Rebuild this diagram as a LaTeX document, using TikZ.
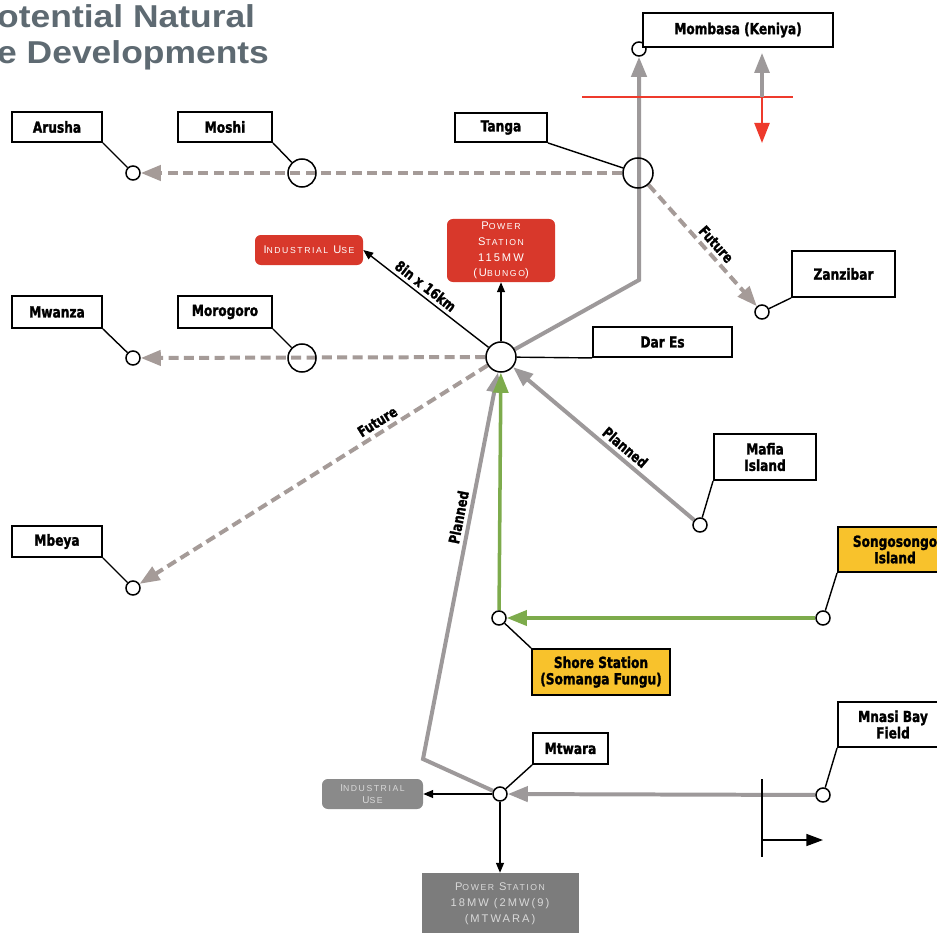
\documentclass[tikz,border=0pt]{standalone}
\usepackage{fontspec}
\usetikzlibrary{arrows.meta,backgrounds}
\newfontfamily\titlefont{Liberation Sans}[FakeStretch=1.12]
\newfontfamily\tagfont{DejaVu Sans Bold}[FakeStretch=0.8,FakeBold=1.6]
\newfontfamily\capfont{Liberation Sans}[LetterSpace=18]
\newcommand\lc[1]{{\fontsize{7.4}{10}\selectfont #1}}
\definecolor{titlegray}{HTML}{5E6A72}
\definecolor{pipegray}{HTML}{9D999A}
\definecolor{dashgray}{HTML}{A59B98}
\definecolor{gasgreen}{HTML}{7DAB4C}
\definecolor{fieldyellow}{HTML}{F8C22C}
\definecolor{plantred}{HTML}{D8382B}
\definecolor{worksgray}{HTML}{8A8A8A}
\definecolor{stationgray}{HTML}{7C7C7C}
\definecolor{cutred}{HTML}{EE3A2C}

\begin{document}
\begin{tikzpicture}[x=0.03cm,y=-0.03cm,
 town/.style={draw,line width=1.6pt,fill=white,inner sep=0pt,align=center,font=\tagfont\fontsize{13}{14}\selectfont},
 field/.style={town,fill=fieldyellow},
 plant/.style={rounded corners=5pt,fill=plantred,text=white,inner sep=0pt,align=center,font=\capfont\fontsize{9.5}{13.5}\selectfont},
 works/.style={plant,fill=worksgray,text=black!15},
 stop/.style={circle,draw,line width=1.3pt,fill=white,minimum size=0.42cm,inner sep=0pt},
 hubc/.style={circle,draw,line width=1.3pt,minimum size=0.86cm,inner sep=0pt},
 tie/.style={line width=1.2pt},
 feed/.style={-{Triangle[length=3mm,width=2.4mm]},line width=1.2pt},
 pipe/.style={-{Triangle[length=6mm,width=4.5mm]},line width=3.4pt,draw=pipegray},
 future/.style={pipe,draw=dashgray,dash pattern=on 0.3cm off 0.16cm},
 gas/.style={pipe,draw=gasgreen,line width=3pt},
 tag/.style={font=\tagfont\fontsize{12.5}{13.5}\selectfont,sloped,above,inner sep=3pt}]
\useasboundingbox (0,0) rectangle (937,932);
% heading
\node[anchor=base west,inner sep=0pt,text=titlegray,font=\titlefont\bfseries\fontsize{27}{30}\selectfont] (title1) at (-3,28) {otential Natural};
\node[anchor=base west,inner sep=0pt,text=titlegray,font=\titlefont\bfseries\fontsize{27}{30}\selectfont] (title2) at (-3,64) {e Developments};
% junctions
\node[stop] (carusha) at (133,173) {};
\node[hubc,minimum size=0.84cm] (cmoshi) at (302,173) {};
\node[hubc,minimum size=0.9cm] (ctanga) at (638,173) {};
\node[stop] (cmombasa) at (639,49) {};
\node[stop] (czanzibar) at (762,312) {};
\node[hubc,minimum size=0.9cm] (hub) at (501,357) {};
\node[stop] (cmwanza) at (133,358) {};
\node[hubc,minimum size=0.84cm] (cmorogoro) at (302,358) {};
\node[stop] (cmbeya) at (133,588) {};
\node[stop] (cmafia) at (700,525) {};
\node[stop] (csongo) at (823,618) {};
\node[stop] (cshore) at (499,618) {};
\node[stop] (cmnasi) at (823,795) {};
\node[stop] (cmtwara) at (500,794) {};
% places
\node[town,minimum width=2.7cm,minimum height=0.9cm] (arusha) at (57,127) {Arusha};
\node[town,minimum width=2.82cm,minimum height=0.9cm] (moshi) at (225,127) {Moshi};
\node[town,minimum width=2.76cm,minimum height=0.87cm] (tanga) at (501,127.5) {Tanga};
\node[town,minimum width=5.7cm,minimum height=1.02cm] (mombasa) at (738,30) {Mombasa (Keniya)};
\node[town,minimum width=3.09cm,minimum height=1.38cm] (zanzibar) at (843.5,274) {Zanzibar};
\node[town,minimum width=4.17cm,minimum height=0.9cm] (dares) at (662.5,342) {Dar Es};
\node[town,minimum width=2.7cm,minimum height=0.96cm] (mwanza) at (57,312) {Mwanza};
\node[town,minimum width=2.82cm,minimum height=0.96cm] (morogoro) at (225,312) {Morogoro};
\node[town,minimum width=2.7cm,minimum height=0.93cm] (mbeya) at (57,541.5) {Mbeya};
\node[town,minimum width=3.06cm,minimum height=1.38cm] (mafia) at (765,457) {Mafia\\Island};
\node[field,minimum width=3.42cm,minimum height=1.35cm] (songo) at (895,549.5) {Songosongo\\Island};
\node[field,minimum width=4.14cm,minimum height=1.38cm] (shore) at (601,672) {Shore Station\\(Somanga Fungu)};
\node[town,minimum width=3.3cm,minimum height=1.35cm] (mnasi) at (893,724.5) {Mnasi Bay\\Field};
\node[town,minimum width=2.25cm,minimum height=0.93cm] (mtwara) at (570.5,748.5) {Mtwara};
\node[plant,minimum width=3.24cm,minimum height=1.89cm] (ps1) at (501,250.5) {P\lc{OWER}\\S\lc{TATION}\\115MW\\(U\lc{BUNGO})};
\node[plant,minimum width=3.24cm,minimum height=0.9cm] (ind1) at (309,250) {I\lc{NDUSTRIAL} U\lc{SE}};
\node[works,minimum width=3.03cm,minimum height=0.9cm,font=\capfont\fontsize{8.5}{10.5}\selectfont] (ind2) at (372.5,794) {I\lc{NDUSTRIAL}\\U\lc{SE}};
\node[works,fill=stationgray,rounded corners=0pt,minimum width=4.71cm,minimum height=1.86cm] (ps2) at (500,904) {P\lc{OWER} S\lc{TATION}\\18MW (2MW(9)\\(MTWARA)};
% free ends
\coordinate (bend) at (639,280);
\coordinate (kink) at (423,759);
\coordinate (cutl) at (582,97);
\coordinate (cutr) at (793,97);
\coordinate (cutm) at (762,97);
\coordinate (cutdown) at (762,143);
\coordinate (cutup) at (762,53);
\coordinate (bartop) at (762,779);
\coordinate (barbot) at (762,857);
\coordinate (barmid) at (762,840);
\coordinate (bartip) at (823,840);
\begin{scope}[on background layer]
\fill[white] (0,0) rectangle (937,932);
% box to junction
\draw[tie] (arusha.south east) -- (carusha);
\draw[tie] (moshi.south east) -- (cmoshi);
\draw[tie] (tanga.south east) -- (ctanga);
\draw[tie] (zanzibar.south west) -- (czanzibar);
\draw[tie] (hub) -- (dares.south west);
\draw[tie] (mwanza.south east) -- (cmwanza);
\draw[tie] (morogoro.south east) -- (cmorogoro);
\draw[tie] (mbeya.south east) -- (cmbeya);
\draw[tie] (mafia.south west) -- (cmafia);
\draw[tie] (songo.south west) -- (csongo);
\draw[tie] (shore.north west) -- (cshore);
\draw[tie] (mnasi.south west) -- (cmnasi);
\draw[tie] (mtwara.south west) -- (cmtwara);
% pipelines
\draw[future] (ctanga) -- (carusha);
\draw[future] (ctanga) -- node[tag,pos=0.55]{Future} (czanzibar);
\draw[future] (hub) -- (cmwanza);
\draw[future] (hub) -- node[tag,pos=0.3]{Future} (cmbeya);
\draw[pipe] (hub) -- (bend) -- (cmombasa);
\draw[pipe] (cmafia) -- node[tag,pos=0.42]{Planned} (hub);
\draw[pipe] (cmtwara) -- (kink) -- node[tag,pos=0.62]{Planned} (hub);
\draw[pipe] (cmnasi) -- (cmtwara);
\draw[gas] (csongo) -- (cshore);
\draw[gas] (cshore) -- (hub);
\draw[feed] (hub) -- (ps1.south);
\draw[feed] (hub) -- node[tag,pos=0.55]{8in x 16km} (ind1.east);
\draw[feed] (cmtwara) -- (ind2.east);
\draw[feed] (cmtwara) -- (ps2.north);
% marks
\draw[cutred,line width=1.5pt] (cutl) -- (cutr);
\draw[pipe,line width=2.6pt] (cutm) -- (cutup);
\draw[-{Triangle[length=6mm,width=4.5mm]},cutred,line width=2pt] (cutm) -- (cutdown);
\draw[tie] (bartop) -- (barbot);
\draw[feed,-{Triangle[length=5mm,width=3.6mm]}] (barmid) -- (bartip);
\end{scope}
\end{tikzpicture}
\end{document}
